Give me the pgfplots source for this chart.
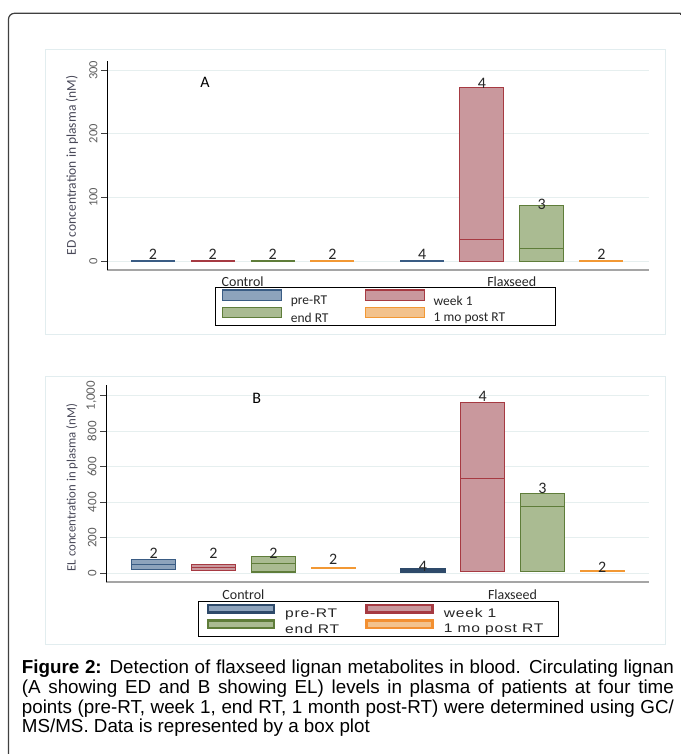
\documentclass[border=0pt]{standalone}
\usepackage{fontspec}
\setmainfont{Carlito}
\newfontfamily\capfont{Liberation Sans}
\newfontfamily\legbfont[FakeStretch=1.25,LetterSpace=6]{Liberation Sans}
\usepackage{pgfplots}
\pgfplotsset{compat=1.18}

\definecolor{preF}{RGB}{141,163,188}
\definecolor{preD}{RGB}{58,92,132}
\definecolor{wkF}{RGB}{201,152,157}
\definecolor{wkD}{RGB}{166,58,66}
\definecolor{endF}{RGB}{170,187,146}
\definecolor{endD}{RGB}{95,125,58}
\definecolor{postF}{RGB}{243,194,140}
\definecolor{postD}{RGB}{242,152,52}
\definecolor{gridc}{RGB}{230,239,239}
\definecolor{framec}{RGB}{226,237,239}
\definecolor{axisgray}{RGB}{165,165,165}
\definecolor{ticktext}{RGB}{95,95,95}
\definecolor{labtext}{RGB}{72,72,88}

\pgfplotsset{
  panel/.style={
    scale only axis, clip=false,
    axis x line=bottom, axis y line=left,
    x axis line style={-, draw=axisgray, line width=2pt},
    y axis line style={-, draw=black, line width=0.9pt},
    xtick={2.5,7}, xticklabels={Control,Flaxseed},
    xtick style={draw=none},
    xticklabel style={font=\fontsize{14}{16}\selectfont, text=black!85},
    tick align=outside, major tick length=6pt,
    ytick style={draw=black!75, line width=0.8pt},
    yticklabel style={rotate=90, anchor=south, font=\fontsize{12.5}{14}\selectfont, text=ticktext},
    /pgf/number format/assume math mode=true,
    /pgf/number format/1000 sep={,},
    ymajorgrids, grid style={draw=gridc, line width=0.9pt},
    ylabel style={anchor=center, text=labtext},
    every node near coord/.append style={inner sep=0pt, font=\fontsize{16}{18}\selectfont, text=black!85},
    legend cell align=left,
  },
}

\begin{document}
\begin{tikzpicture}
\useasboundingbox (0pt,0pt) rectangle (683pt,754pt);
% outer frame
\draw[line width=1.2pt, draw=black!75, rounded corners=6pt] (8.5pt,-2pt) -- (8.5pt,740.7pt) -- (680.7pt,740.7pt);
\draw[line width=1.2pt, draw=black!75] (680.7pt,740.7pt) -- (680.7pt,738.7pt);
% light panel frames
\draw[draw=framec, line width=1pt] (45pt,704pt) rectangle (665pt,419pt);
\draw[draw=framec, line width=1pt] (45pt,377pt) rectangle (665pt,109pt);

% ---------- panel A ----------
\begin{axis}[panel,
  at={(107pt,484pt)}, anchor=south west,
  width=542pt, height=209.3pt,
  xmin=0.231, xmax=9.295, ymin=-14.1, ymax=315,
  ytick={0,100,200,300},
  xticklabel style={yshift=3pt},
  ylabel={ED concentration in plasma (nM)},
  ylabel style={at={(axis description cs:-0.0646,0.5)}, font=\fontsize{13.5}{15}\selectfont},
  legend image code/.code={\draw[#1, line width=1.2pt] (0.6pt,0.6pt) rectangle (60pt,11.1pt);},
  legend columns=2,
  legend style={at={(axis description cs:0.1993,-0.0812)}, anchor=north west,
    draw=black, line width=1pt, fill=white, inner xsep=6.2pt, inner ysep=2pt,
    row sep=0pt, font=\fontsize{13.5}{15}\selectfont,
    nodes={inner sep=0pt, text=black!85},
    /tikz/every odd column/.append style={column sep=8.5pt},
    /tikz/every even column/.append style={column sep=36pt}},
]
% control (all at zero)
\addplot[forget plot, draw=preD, line width=1.8pt] coordinates {(0.632,0) (1.368,0)};
\addplot[forget plot, draw=wkD, line width=1.8pt] coordinates {(1.632,0) (2.368,0)};
\addplot[forget plot, draw=endD, line width=1.8pt] coordinates {(2.632,0) (3.368,0)};
\addplot[forget plot, draw=postD, line width=1.8pt] coordinates {(3.632,0) (4.368,0)};
% flaxseed
\addplot[forget plot, draw=preD, line width=1.8pt] coordinates {(5.132,0) (5.868,0)};
\addplot[forget plot, fill=wkF, draw=wkD, line width=1pt] coordinates {(6.132,0) (6.868,0) (6.868,273.5) (6.132,273.5)} -- cycle;
\addplot[forget plot, draw=wkD, line width=1pt] coordinates {(6.132,34) (6.868,34)};
\addplot[forget plot, fill=endF, draw=endD, line width=1pt] coordinates {(7.132,0) (7.868,0) (7.868,86.6) (7.132,86.6)} -- cycle;
\addplot[forget plot, draw=endD, line width=1pt] coordinates {(7.132,19.4) (7.868,19.4)};
\addplot[forget plot, draw=postD, line width=1.8pt] coordinates {(8.132,0) (8.868,0)};
% group sizes
\addplot[forget plot, only marks, mark=none, nodes near coords, point meta=explicit symbolic] table[meta=n] {
x   y     n
1   2.4   2
2   2.4   2
3   2.4   2
4   2.4   2
5.5 2.7   4
6.5 271.5 4
7.5 80    3
8.5 2.7   2
};
\node[font=\fontsize{16}{18}\selectfont] at (rel axis cs:0.181,0.898) {A};
\addlegendimage{fill=preF, draw=preD}\addlegendentry{pre-RT}
\addlegendimage{fill=wkF, draw=wkD}\addlegendentry{week 1}
\addlegendimage{fill=endF, draw=endD}\addlegendentry{end RT}
\addlegendimage{fill=postF, draw=postD}\addlegendentry{1 mo post RT\hspace*{44pt}}
\end{axis}

% ---------- panel B ----------
\begin{axis}[panel,
  at={(106pt,171.7pt)}, anchor=south west,
  width=543pt, height=197.3pt,
  xmin=0.202, xmax=9.282, ymin=-50.7, ymax=1060.2,
  ytick={0,200,400,600,800,1000},
  xticklabel style={yshift=2pt},
  yticklabel style={font=\fontsize{13}{15}\selectfont},
  ylabel={EL concentration in plasma (nM)},
  ylabel style={at={(axis description cs:-0.0626,0.48)}, font=\fontsize{12.8}{15}\selectfont},
  legend image code/.code={\draw[#1, line width=2.4pt] (1.2pt,1.2pt) rectangle (67.2pt,8.8pt);},
  legend columns=2,
  legend style={at={(axis description cs:0.170,-0.0948)}, anchor=north west,
    draw=black, line width=1pt, fill=white, inner xsep=7.7pt, inner ysep=2pt,
    row sep=0.5pt, font=\legbfont\fontsize{12.5}{14}\selectfont,
    nodes={inner sep=0pt, text=black!85},
    /tikz/every odd column/.append style={column sep=10.3pt},
    /tikz/every even column/.append style={column sep=26pt}},
]
% control
\addplot[forget plot, fill=preF, draw=preD, line width=1.2pt] coordinates {(0.632,22.5) (1.368,22.5) (1.368,79) (0.632,79)} -- cycle;
\addplot[forget plot, draw=preD, line width=1.2pt] coordinates {(0.632,50) (1.368,50)};
\addplot[forget plot, fill=wkF, draw=wkD, line width=1.2pt] coordinates {(1.632,15) (2.368,15) (2.368,50) (1.632,50)} -- cycle;
\addplot[forget plot, draw=wkD, line width=1.2pt] coordinates {(1.632,32) (2.368,32)};
\addplot[forget plot, fill=endF, draw=endD, line width=1.2pt] coordinates {(2.632,7) (3.368,7) (3.368,96) (2.632,96)} -- cycle;
\addplot[forget plot, draw=endD, line width=1.2pt] coordinates {(2.632,53) (3.368,53)};
\addplot[forget plot, fill=postF, draw=postD, line width=1.2pt] coordinates {(3.632,27) (4.368,27) (4.368,33) (3.632,33)} -- cycle;
% flaxseed
\addplot[forget plot, fill=preF, draw=preD!80!black, line width=1.6pt] coordinates {(5.132,8) (5.868,8) (5.868,28) (5.132,28)} -- cycle;
\addplot[forget plot, draw=preD!80!black, line width=1.2pt] coordinates {(5.132,18) (5.868,18)};
\addplot[forget plot, fill=wkF, draw=wkD, line width=1.2pt] coordinates {(6.132,9) (6.868,9) (6.868,963) (6.132,963)} -- cycle;
\addplot[forget plot, draw=wkD, line width=1.2pt] coordinates {(6.132,535) (6.868,535)};
\addplot[forget plot, fill=endF, draw=endD, line width=1.2pt] coordinates {(7.132,9) (7.868,9) (7.868,450) (7.132,450)} -- cycle;
\addplot[forget plot, draw=endD, line width=1.2pt] coordinates {(7.132,377) (7.868,377)};
\addplot[forget plot, fill=postF, draw=postD, line width=1.2pt] coordinates {(8.132,11) (8.868,11) (8.868,15) (8.132,15)} -- cycle;
% group sizes
\addplot[forget plot, only marks, mark=none, nodes near coords, point meta=explicit symbolic] table[meta=n] {
x   y     n
1   84.5  2
2   84.5  2
3   84.5  2
4   47    2
5.5 9     4
6.5 966   4
7.5 450   3
8.5 3.4   2
};
\node[font=\fontsize{16}{18}\selectfont] at (rel axis cs:0.2775,0.934) {B};
\addlegendimage{fill=preF, draw=preD!80!black}\addlegendentry{pre-RT}
\addlegendimage{fill=wkF, draw=wkD}\addlegendentry{week 1}
\addlegendimage{fill=endF, draw=endD}\addlegendentry{end RT}
\addlegendimage{fill=postF, draw=postD!95!red}\addlegendentry{1 mo post RT\hspace*{7pt}}
\end{axis}

% ---------- caption ----------
\node[anchor=north west, inner sep=0pt] at (21.7pt,94.4pt) {\parbox{652pt}{\capfont\fontsize{18.8}{19.8}\selectfont
\textbf{Figure 2:} Detection of flaxseed lignan metabolites in blood. Circulating lignan\linebreak
(A showing ED and B showing EL) levels in plasma of patients at four time\linebreak
points (pre-RT, week 1, end RT, 1 month post-RT) were determined using GC/\linebreak
MS/MS. Data is represented by a box plot}};
\end{tikzpicture}
\end{document}
